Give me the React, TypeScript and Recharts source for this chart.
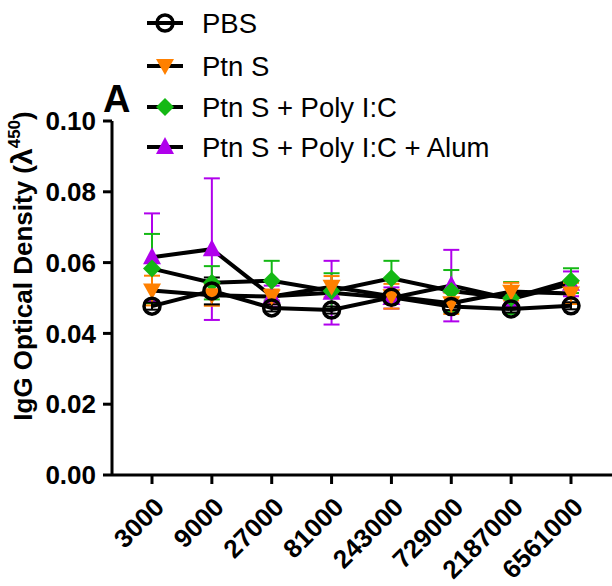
import React from 'react';
import { LineChart, Line, XAxis, YAxis, ErrorBar } from 'recharts';

const dilutions = ['3000', '9000', '27000', '81000', '243000', '729000', '2187000', '6561000'];

const pbs = [0.0477, 0.052, 0.0472, 0.0466, 0.0502, 0.0476, 0.0469, 0.0478];
const pbsErr = [0.001, 0.0038, 0.001, 0.001, 0.001, 0.001, 0.001, 0.001];
const ptnS = [0.0521, 0.0508, 0.0504, 0.0532, 0.0505, 0.0485, 0.0518, 0.0513];
const ptnSErr = [0.0042, 0.003, 0.002, 0.003, 0.0035, 0.003, 0.0025, 0.003];
const polyIC = [0.0583, 0.0543, 0.0549, 0.052, 0.0556, 0.052, 0.05, 0.0549];
const polyICErr = [0.0098, 0.0047, 0.0056, 0.005, 0.0049, 0.0059, 0.0045, 0.0035];
const alum = [0.0615, 0.0638, 0.0505, 0.0515, 0.05, 0.0535, 0.0497, 0.054];
const alumErr = [0.0124, 0.02, 0.003, 0.009, 0.003, 0.0101, 0.002, 0.0035];

const yTicks = [0, 0.02, 0.04, 0.06, 0.08, 0.1];

const FONT = 'Arial, "Liberation Sans", Helvetica, sans-serif';
const ORANGE = '#FF8000';
const GREEN = '#14B814';
const PURPLE = '#B000EC';

const data = dilutions.map((d, i) => ({
  dilution: d,
  pbs: pbs[i],
  pbsErr: pbsErr[i],
  ptnS: ptnS[i],
  ptnSErr: ptnSErr[i],
  polyIC: polyIC[i],
  polyICErr: polyICErr[i],
  alum: alum[i],
  alumErr: alumErr[i],
}));

type Shape = 'circle' | 'down' | 'diamond' | 'up';

const Marker = ({ shape, cx, cy }: { shape: Shape; cx: number; cy: number }) => {
  if (shape === 'circle') {
    return <circle cx={cx} cy={cy} r={8} fill="none" stroke="#000" strokeWidth={3.5} />;
  }
  if (shape === 'down') {
    return <polygon points={`${cx - 9},${cy - 7} ${cx + 9},${cy - 7} ${cx},${cy + 9}`} fill={ORANGE} />;
  }
  if (shape === 'diamond') {
    return <polygon points={`${cx},${cy - 9} ${cx + 9},${cy} ${cx},${cy + 9} ${cx - 9},${cy}`} fill={GREEN} />;
  }
  return <polygon points={`${cx},${cy - 10} ${cx + 9},${cy + 7} ${cx - 9},${cy + 7}`} fill={PURPLE} />;
};

const dotFor = (shape: Shape) => (props: any) => (
  <Marker key={`${shape}-${props.index}`} shape={shape} cx={props.cx} cy={props.cy} />
);

const XTick = (props: any) => {
  const { x, y, payload } = props;
  return (
    <g transform={`translate(${x + 8},${y + 17})`}>
      <text transform="rotate(-45)" textAnchor="end" fontFamily={FONT} fontWeight="bold" fontSize={26} fill="#000" dy={8}>
        {payload.value}
      </text>
    </g>
  );
};

const legendItems: { name: string; shape: Shape }[] = [
  { name: 'PBS', shape: 'circle' },
  { name: 'Ptn S', shape: 'down' },
  { name: 'Ptn S + Poly I:C', shape: 'diamond' },
  { name: 'Ptn S + Poly I:C + Alum', shape: 'up' },
];
const legendRows = [23, 66, 107, 147];

export default function App() {
  return (
    <div style={{ position: 'absolute', left: 0, top: 0, width: 612, height: 586, background: '#fff' }}>
      <LineChart width={612} height={586} data={data} margin={{ top: 121, right: 0, bottom: 0, left: 0 }}>
        <XAxis
          dataKey="dilution"
          height={111}
          padding={{ left: 40, right: 41 }}
          tickSize={9}
          tick={<XTick />}
          axisLine={{ stroke: '#000', strokeWidth: 3 }}
          tickLine={{ stroke: '#000', strokeWidth: 3 }}
          interval={0}
        />
        <YAxis
          width={112}
          domain={[0, 0.1]}
          ticks={yTicks}
          tickFormatter={(v: number) => v.toFixed(2)}
          tickSize={9}
          tickMargin={7}
          tick={{ fill: '#000', fontFamily: FONT, fontWeight: 'bold', fontSize: 26 }}
          axisLine={{ stroke: '#000', strokeWidth: 3 }}
          tickLine={{ stroke: '#000', strokeWidth: 3 }}
        />
        <Line dataKey="alum" stroke="#000" strokeWidth={4} dot={dotFor('up')} isAnimationActive={false}>
          <ErrorBar dataKey="alumErr" width={8} stroke={PURPLE} strokeWidth={2} isAnimationActive={false} />
        </Line>
        <Line dataKey="polyIC" stroke="#000" strokeWidth={4} dot={dotFor('diamond')} isAnimationActive={false}>
          <ErrorBar dataKey="polyICErr" width={8} stroke={GREEN} strokeWidth={2} isAnimationActive={false} />
        </Line>
        <Line dataKey="ptnS" stroke="#000" strokeWidth={4} dot={dotFor('down')} isAnimationActive={false}>
          <ErrorBar dataKey="ptnSErr" width={8} stroke={ORANGE} strokeWidth={2} isAnimationActive={false} />
        </Line>
        <Line dataKey="pbs" stroke="#000" strokeWidth={4} dot={dotFor('circle')} isAnimationActive={false}>
          <ErrorBar dataKey="pbsErr" width={8} stroke="#000" strokeWidth={2} isAnimationActive={false} />
        </Line>
      </LineChart>
      <svg width={612} height={586} style={{ position: 'absolute', left: 0, top: 0, pointerEvents: 'none' }}>
        <text x={103} y={112} fontFamily={FONT} fontWeight="bold" fontSize={38} fill="#000">A</text>
        <text
          transform="translate(32,266) rotate(-90)"
          textAnchor="middle"
          fontFamily={FONT}
          fontWeight="bold"
          fontSize={26}
          fill="#000"
        >
          IgG Optical Density (<tspan fontSize={30}>λ</tspan><tspan dy={-12} fontSize={17}>450</tspan><tspan dy={12}>)</tspan>
        </text>
        {legendItems.map((item, i) => {
          const cy = legendRows[i];
          return (
            <g key={item.name}>
              <line x1={147} x2={183} y1={cy} y2={cy} stroke="#000" strokeWidth={4} />
              <Marker shape={item.shape} cx={165} cy={cy} />
              <text x={202} y={cy + 10} fontFamily={FONT} fontSize={27.5} fill="#000">{item.name}</text>
            </g>
          );
        })}
      </svg>
    </div>
  );
}
